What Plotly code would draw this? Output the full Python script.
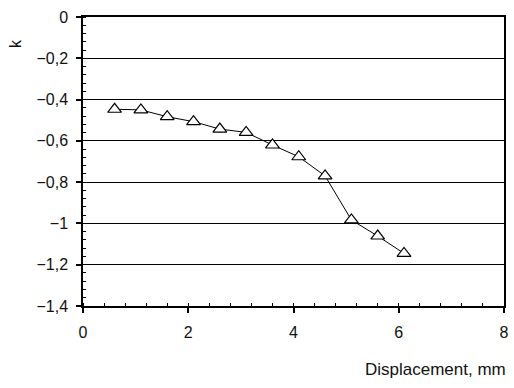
import plotly.graph_objects as go

displacement = [0.6, 1.1, 1.6, 2.1, 2.6, 3.1, 3.6, 4.1, 4.6, 5.1, 5.6, 6.1]
k_values = [-0.447, -0.45, -0.483, -0.507, -0.543, -0.559, -0.620, -0.677, -0.770, -0.983, -1.061, -1.145]

fig = go.Figure()
fig.add_trace(go.Scatter(
    x=displacement, y=k_values, mode="lines+markers",
    line=dict(color="black", width=1),
    marker=dict(symbol="triangle-up", size=12, color="white",
                line=dict(color="black", width=1.2)),
    showlegend=False,
))

font = dict(family="Liberation Sans, Arial, sans-serif", size=16, color="#111")

fig.update_layout(
    width=514, height=388,
    margin=dict(l=83, r=10, t=17, b=82, autoexpand=False),
    paper_bgcolor="white", plot_bgcolor="white",
    separators=", ",
    font=font,
    xaxis=dict(range=[0, 8], dtick=2, tick0=0, showgrid=False, zeroline=False,
               showline=True, linecolor="black", linewidth=1.5, mirror=True,
               ticks="outside", ticklen=5, tickcolor="black", tickwidth=1.5,
               ticklabelstandoff=6, automargin=False,
               minor=dict(dtick=0.4, ticks="inside", ticklen=3, tickcolor="black", tickwidth=1)),
    yaxis=dict(range=[-1.4, 0], dtick=0.2, tick0=0, showgrid=True, gridcolor="black", gridwidth=1.2,
               zeroline=False, showline=True, linecolor="black", linewidth=1.5, mirror=True,
               ticks="outside", ticklen=5, tickcolor="black", tickwidth=1.5,
               ticklabelstandoff=5, automargin=False,
               minor=dict(dtick=0.04, ticks="inside", ticklen=3, tickcolor="black", tickwidth=1, showgrid=False)),
    annotations=[
        dict(text="k", xref="paper", yref="paper", x=-0.159, y=0.907, showarrow=False,
             xanchor="center", yanchor="middle", textangle=-90, font=font),
        dict(text="Displacement, mm", xref="paper", yref="paper", x=1.0095, y=-0.218,
             xanchor="right", yanchor="middle", showarrow=False, font=dict(font, size=17)),
    ],
)

fig.write_html(
    "out.html",
    config={"displayModeBar": False},
    post_script="document.body.style.margin='0';document.body.style.overflow='hidden';",
)
